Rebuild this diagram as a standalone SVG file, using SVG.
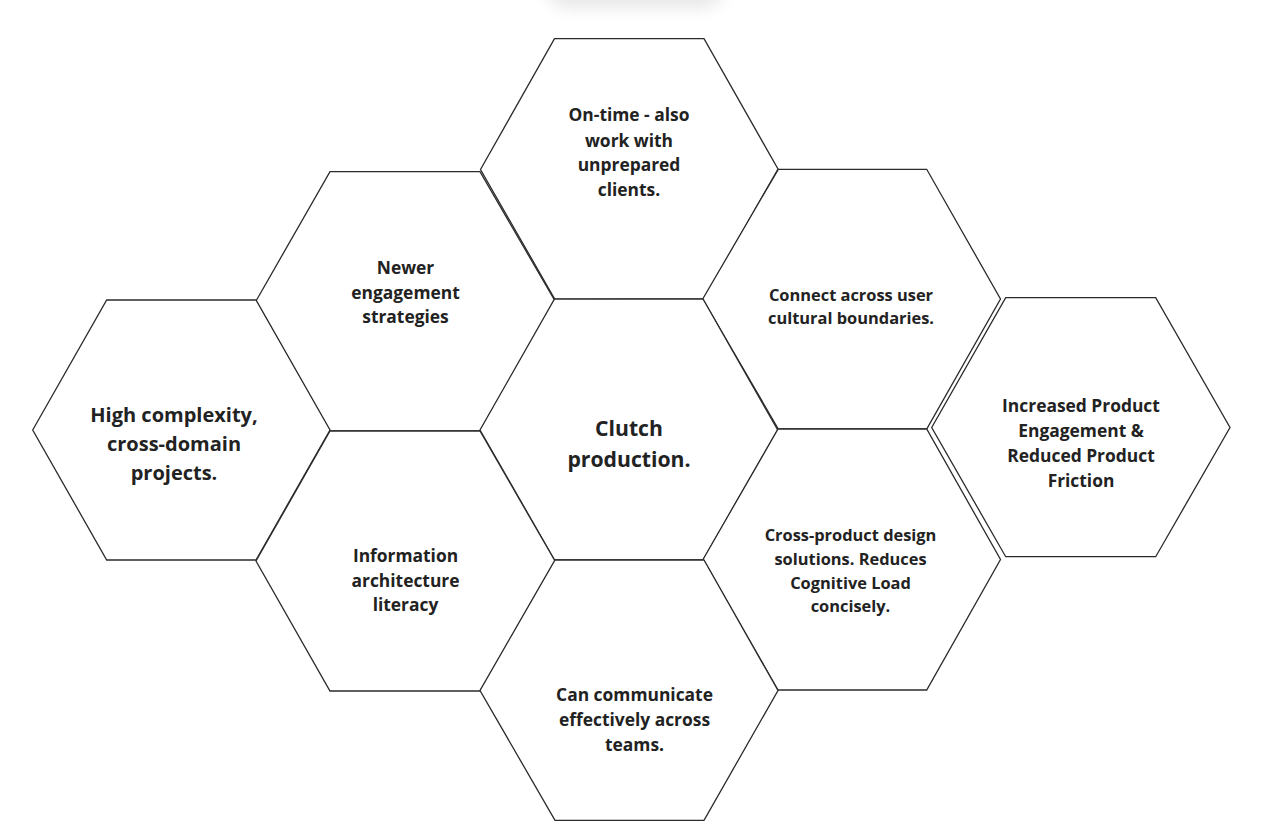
<svg xmlns="http://www.w3.org/2000/svg" width="1262" height="840" viewBox="0 0 1262 840">
<defs>
<filter id="blur" x="-50%" y="-50%" width="200%" height="200%"><feGaussianBlur stdDeviation="9"/></filter>
<style>
.hex{fill:#ffffff;stroke:#2b2b2b;stroke-width:1.3;stroke-linejoin:miter}
.t{font-family:"Open Sans","Noto Sans","Liberation Sans",sans-serif;font-weight:700;fill:#222222;text-anchor:middle}
.s16{font-size:17.4px}
.s15{font-size:16.4px}
.s19{font-size:20px}
.s21{font-size:21.2px}
</style>
</defs>
<rect width="1262" height="840" fill="#ffffff"/>
<rect x="548" y="-45" width="175" height="52" rx="20" fill="#000" opacity="0.10" filter="url(#blur)"/>
<g id="connectors"></g>
<g id="hex-top">
<polygon class="hex" points="480.5,169.5 554.5,38.7 704,38.7 778,169 704,299 555,299.5"/>
<text class="t s16" x="629" y="121">On-time - also</text>
<text class="t s16" x="629" y="146.5">work with</text>
<text class="t s16" x="629" y="171">unprepared</text>
<text class="t s16" x="629" y="195.5">clients.</text>
</g>
<g id="hex-upper-left">
<polygon class="hex" points="256,301 330,171.7 480,171.7 555,301 480,431 330,431"/>
<text class="t s16" x="405.5" y="274">Newer</text>
<text class="t s16" x="405.5" y="298.5">engagement</text>
<text class="t s16" x="405.5" y="322.7">strategies</text>
</g>
<g id="hex-upper-right">
<polygon class="hex" points="702.7,299 778.3,169.3 926.7,169.3 1000.5,299 926.7,429 778.3,429"/>
<text class="t s15" x="851" y="300.7">Connect across user</text>
<text class="t s15" x="851" y="324">cultural boundaries.</text>
</g>
<g id="hex-left">
<polygon class="hex" points="32.7,430 106.7,300 256,300 330,430 256,560 106.7,560"/>
<text class="t s19" x="174" y="421.7">High complexity,</text>
<text class="t s19" x="174" y="450.7">cross-domain</text>
<text class="t s19" x="174" y="479.5">projects.</text>
</g>
<g id="hex-center">
<polygon class="hex" points="480,430 554.5,299 703,299 777.7,430 703,560 554.5,560"/>
<text class="t s21" x="629" y="436">Clutch</text>
<text class="t s21" x="629" y="466.7">production.</text>
</g>
<g id="hex-right">
<polygon class="hex" points="931.7,427.5 1005.7,297.7 1155.7,297.7 1230,427.5 1155.7,556.7 1005.7,556.7"/>
<text class="t s16" x="1081" y="411.7">Increased Product</text>
<text class="t s16" x="1081" y="436.7">Engagement &amp;</text>
<text class="t s16" x="1081" y="462.2">Reduced Product</text>
<text class="t s16" x="1081" y="487.3">Friction</text>
</g>
<g id="hex-lower-left">
<polygon class="hex" points="256,561 330,431 480,431 555,561 480,691 330,691"/>
<text class="t s16" x="405.5" y="561.7">Information</text>
<text class="t s16" x="405.5" y="586.7">architecture</text>
<text class="t s16" x="405.5" y="610.5">literacy</text>
</g>
<g id="hex-lower-right">
<polygon class="hex" points="703,559.5 778,429 926.7,429 1000.5,559.5 926.7,690 778,690"/>
<text class="t s15" x="850.5" y="541">Cross-product design</text>
<text class="t s15" x="850.5" y="565">solutions. Reduces</text>
<text class="t s15" x="850.5" y="588.5">Cognitive Load</text>
<text class="t s15" x="850.5" y="612">concisely.</text>
</g>
<g id="hex-bottom">
<polygon class="hex" points="480,690.5 555,560 704,560 778,690.5 704,820.3 555,820.3"/>
<text class="t s16" x="634.5" y="700.7">Can communicate</text>
<text class="t s16" x="634.5" y="725.7">effectively across</text>
<text class="t s16" x="634.5" y="750.7">teams.</text>
</g>
</svg>
